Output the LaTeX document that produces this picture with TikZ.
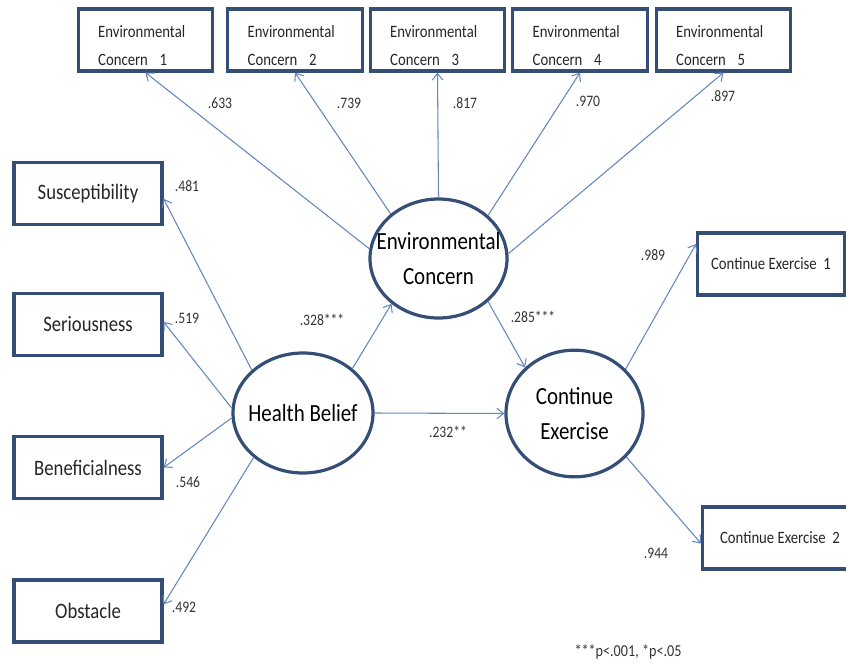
\documentclass[tikz,border=0pt]{standalone}
\usepackage{fontspec}
\setmainfont{Carlito}[FakeStretch=0.85]
\usetikzlibrary{shapes.geometric, arrows.meta, positioning}
\definecolor{framec}{RGB}{52,78,118}
\definecolor{pathc}{RGB}{100,135,190}
\tikzset{
  itembox/.style={rectangle, draw=framec, line width=2.4pt, fill=white,
                  minimum height=46.5pt, inner sep=0pt, text=black!85},
  topbox/.style={itembox, minimum width=101pt, text width=71pt, align=left,
                 inner xsep=15pt, font=\fontsize{13}{21}\selectfont,
                 execute at begin node={\rule{0pt}{18pt}}},
  leftbox/.style={itembox, minimum width=111pt, font=\fontsize{16.5}{20}\selectfont},
  rightbox/.style={itembox, minimum width=110pt, font=\fontsize{13}{16}\selectfont},
  latent/.style={ellipse, draw=framec, line width=2.4pt, fill=white,
                 inner sep=0pt},
  latentText/.style={align=center, text=black, font=\fontsize{18.5}{26}\selectfont},
  link/.style={draw=pathc, line width=0.8pt,
               -{Straight Barb[length=5pt, width=8pt]}},
  coef/.style={inner sep=0pt, text=black!80, font=\fontsize{12}{14}\selectfont},
}
\begin{document}
\begin{tikzpicture}[x=0.75pt, y=-0.75pt]
  \useasboundingbox (0,0) rectangle (846,668);

  % indicator boxes
  \node[topbox] (ec1) at (145.5,40) {Environmental\\Concern\ \ 1};
  \node[topbox] (ec2) at (295,40)   {Environmental\\Concern\ \ 2};
  \node[topbox] (ec3) at (437.5,40) {Environmental\\Concern\ \ 3};
  \node[topbox] (ec4) at (580,40)   {Environmental\\Concern\ \ 4};
  \node[topbox] (ec5) at (723.5,40) {Environmental\\Concern\ \ 5};

  \node[leftbox] (sus) at (88,193.5) {Susceptibility};
  \node[leftbox] (ser) at (88,324.5) {Seriousness};
  \node[leftbox] (ben) at (88,467.5) {Beneficialness};
  \node[leftbox] (obs) at (88,611)   {Obstacle};

  \node[rightbox] (ce1) at (771,264) {Continue Exercise\ \ 1};
  \node[rightbox, minimum width=116pt] (ce2) at (780,538) {Continue Exercise\ \ 2};

  % latent variables
  \node[latent, minimum width=102.75pt, minimum height=89.25pt,
        label={[latentText, name=ecT]center:Environmental\\Concern}]
        (ec) at (438.5,258.5) {};
  \node[latent, minimum width=105pt, minimum height=90pt,
        label={[latentText, name=hbT]center:Health Belief}]
        (hb) at (303,413) {};
  \node[latent, minimum width=102.75pt, minimum height=95pt,
        label={[latentText, name=ceT]center:Continue\\Exercise}]
        (ce) at (574.5,413.5) {};

  % loadings
  \draw[link] (ec.172) -- (ec1.south);
  \draw[link] (ec.137) -- (ec2.south);
  \draw[link] (ec.90)  -- (ec3.south);
  \draw[link] (ec.41)  -- (ec4.south);
  \draw[link] (ec.4)   -- (ec5.south);

  \draw[link] (hb.140) -- (sus.-4);
  \draw[link] (hb.176) -- (ser.2);
  \draw[link] (hb.184) -- (ben.east);
  \draw[link] (hb.222) -- (obs.5);

  \draw[link] (ce.41)  -- (ce1.165);
  \draw[link] (ce.320) -- (ce2.184);

  % structural paths
  \draw[link] (hb.42)   -- (ec.224);
  \draw[link] (hb.east) -- (ce.west);
  \draw[link] (ec.319)  -- (ce.137);

  \node[coef] (c1) at (220,103) {.633};
  \node[coef] (c2) at (349,103) {.739};
  \node[coef] (c3) at (465,103) {.817};
  \node[coef] (c4) at (588,101) {.970};
  \node[coef] (c5) at (723,96)  {.897};
  \node[coef] (c6) at (187,186) {.481};
  \node[coef] (c7) at (187,318) {.519};
  \node[coef] (c8) at (188,482) {.546};
  \node[coef] (c9) at (184,607) {.492};
  \node[coef] (c10) at (322,320) {.328***};
  \node[coef] (c11) at (533,317) {.285***};
  \node[coef] (c12) at (448,432) {.232**};
  \node[coef] (c13) at (653,255) {.989};
  \node[coef] (c14) at (656,553) {.944};

  \node[coef, font=\fontsize{12.5}{14}\selectfont] (note) at (628,652) {***p<.001, *p<.05};
\end{tikzpicture}
\end{document}
